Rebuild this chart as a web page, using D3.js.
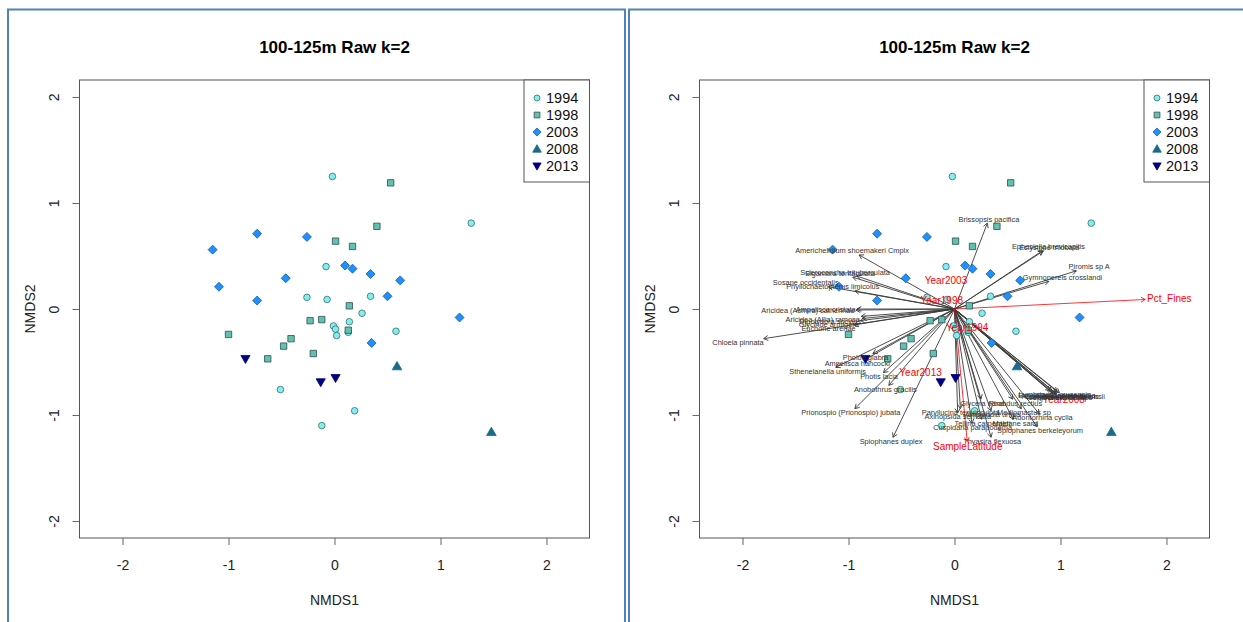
<!DOCTYPE html>
<html>
<head>
<meta charset="utf-8">
<script src="https://cdn.jsdelivr.net/npm/d3@7"></script>
<style>
  body { margin: 0; background: #fff; }
  svg text { font-family: "Liberation Sans", Arial, sans-serif; }
</style>
</head>
<body>
<svg id="chart" width="1243" height="622"></svg>
<script>
// NMDS site scores, one array per survey year
const years = ["1994", "1998", "2003", "2008", "2013"];
const sites1994 = [[-0.02, 1.25], [1.29, 0.81], [-0.08, 0.40], [-0.26, 0.11], [-0.07, 0.09], [0.34, 0.12],
  [0.26, -0.04], [0.14, -0.12], [-0.01, -0.16], [0.01, -0.19], [0.02, -0.25], [0.13, -0.22],
  [0.58, -0.21], [-0.51, -0.76], [0.19, -0.96], [-0.12, -1.10]];
const sites1998 = [[0.53, 1.19], [0.40, 0.78], [0.01, 0.64], [0.17, 0.59], [0.14, 0.03], [-0.23, -0.11],
  [-0.12, -0.10], [0.13, -0.20], [-1.00, -0.24], [-0.41, -0.28], [-0.48, -0.35], [-0.20, -0.42], [-0.63, -0.47]];
const sites2003 = [[-1.15, 0.56], [-0.73, 0.71], [-0.26, 0.68], [0.10, 0.41], [0.17, 0.38], [0.34, 0.33],
  [0.62, 0.27], [-0.46, 0.29], [-1.09, 0.21], [-0.73, 0.08], [0.50, 0.12], [1.18, -0.08], [0.35, -0.32]];
const sites2008 = [[0.59, -0.54], [1.48, -1.16]];
const sites2013 = [[-0.84, -0.47], [-0.13, -0.69], [0.01, -0.65]];

// species vectors (arrow tips)
const speciesNames = ["Brissopsis pacifica", "Ephesiella brevicapitis", "Eclysippe trilobata", "Piromis sp A",
  "Gymnonereis crosslandi", "Americhelidium shoemakeri Cmplx", "Sigambra tentaculata", "Scleroconcha trituberculata",
  "Sosane occidentalis", "Phyllochaetopterus limicolus", "Aricidea (Acmira) catherinae", "Ampelisca cristata",
  "Aricidea (Allia) ramosa", "Dipolydora socialis", "Glycinde armigera", "Euchone arenae", "Chloeia pinnata",
  "Pholoe glabra", "Ampelisca hancocki", "Sthenelanella uniformis", "Photis lacia", "Anobothrus gracilis",
  "Prionospio (Prionospio) jubata", "Spiophanes duplex", "Glycera nana", "Rhabdus rectius",
  "Parvilucina tenuisculpta", "Axinopsida serricata", "Amphiodia urtica", "Mediomastus sp", "Adontorhina cyclia",
  "Tellina carpenteri", "Maldane sarsi", "Cuspidaria parapodema", "Spiophanes berkeleyorum", "Thyasira flexuosa",
  "Lumbrineris cruzensis", "Euphilomedes producta", "Pectinaria californiensis", "Chaetozone sp",
  "Leptochelia dubia", "Ampharete labrops", "Compressidens stearnsii"];
const speciesX = [0.31, 0.83, 0.835, 1.15, 0.89, -0.90, -0.96, -0.92, -1.19, -0.94, -0.93, -0.92, -0.88, -0.87,
  -0.89, -0.95, -1.80, -0.77, -0.85, -1.12, -0.67, -0.62, -0.94, -0.58, 0.25, 0.55, 0.055, 0.03, 0.345, 0.63,
  0.80, 0.255, 0.555, 0.165, 0.78, 0.345, 0.90, 0.92, 0.95, 0.97, 0.93, 0.96, 0.99];
const speciesY = [0.81, 0.55, 0.545, 0.36, 0.26, 0.51, 0.30, 0.31, 0.21, 0.17, -0.01, 0.00, -0.07, -0.09,
  -0.11, -0.15, -0.28, -0.42, -0.48, -0.55, -0.60, -0.72, -0.94, -1.21, -0.85, -0.85, -0.94, -0.98, -0.96, -0.94,
  -0.99, -1.04, -1.04, -1.08, -1.11, -1.21, -0.77, -0.78, -0.79, -0.78, -0.80, -0.80, -0.79];

// environmental vectors and year centroids
const envNames = ["Pct_Fines", "SampleLatitude"];
const envX = [1.80, 0.12];
const envY = [0.09, -1.25];
const centroidNames = ["Year1994", "Year1998", "Year2003", "Year2008", "Year2013"];
const centroidX = [0.12, -0.12, -0.08, 1.03, -0.32];
const centroidY = [-0.17, 0.08, 0.27, -0.85, -0.60];

const tickValues = [-2, -1, 0, 1, 2];

const svg = d3.select("#chart");

// R-like plotting symbols, size = radius
const symCircle = { draw(c, s) { c.moveTo(s, 0); c.arc(0, 0, s, 0, 2 * Math.PI); } };
const symSquare = { draw(c, s) { c.rect(-s, -s, 2 * s, 2 * s); } };
const symDiamond = { draw(c, s) { c.moveTo(0, -s); c.lineTo(s, 0); c.lineTo(0, s); c.lineTo(-s, 0); c.closePath(); } };
const symUp = { draw(c, s) { c.moveTo(0, -s); c.lineTo(s, s * 0.74); c.lineTo(-s, s * 0.74); c.closePath(); } };
const symDown = { draw(c, s) { c.moveTo(0, s); c.lineTo(s, -s * 0.74); c.lineTo(-s, -s * 0.74); c.closePath(); } };

const groups = [
  { year: "1994", sites: sites1994, type: symCircle, size: 3.3, fill: "#7FEFEF", stroke: "#3d6b6b" },
  { year: "1998", sites: sites1998, type: symSquare, size: 3.2, fill: "#62C0B2", stroke: "#2f4f4f" },
  { year: "2003", sites: sites2003, type: symDiamond, size: 4.5, fill: "#1E90FF", stroke: "#1c5a9a" },
  { year: "2008", sites: sites2008, type: symUp, size: 4.8, fill: "#1B6A89", stroke: "#1B6A89" },
  { year: "2013", sites: sites2013, type: symDown, size: 4.6, fill: "#000080", stroke: "#000080" }
];

// panel frames
svg.append("rect").attr("x", 8).attr("y", 9.5).attr("width", 617).attr("height", 640)
  .attr("fill", "none").attr("stroke", "#4F81BD").attr("stroke-width", 2);
svg.append("rect").attr("x", 629).attr("y", 9.5).attr("width", 640).attr("height", 640)
  .attr("fill", "none").attr("stroke", "#4F81BD").attr("stroke-width", 2);

// vegan's ordiArrowTextXY: put the label just past the arrow tip
function arrowTextXY(vx, vy, w, h) {
  const b = vy / vx;
  let ox = Math.sign(vx) * (w / 2 + h / 4);
  let oy = 0.75 * h * Math.sign(vy);
  const move = oy / b;
  if (isFinite(move) && Math.abs(move) <= Math.abs(ox)) ox = move;
  else oy = b * ox;
  return [vx + ox, vy + oy];
}

function arrowPath(x1, y1, x2, y2, len) {
  const a = Math.atan2(y2 - y1, x2 - x1);
  const p = d3.path();
  p.moveTo(x1, y1);
  p.lineTo(x2, y2);
  p.moveTo(x2 - len * Math.cos(a - Math.PI / 6), y2 - len * Math.sin(a - Math.PI / 6));
  p.lineTo(x2, y2);
  p.lineTo(x2 - len * Math.cos(a + Math.PI / 6), y2 - len * Math.sin(a + Math.PI / 6));
  return p.toString();
}

function drawArrows(g, x, y, vx, vy, color, width) {
  const ox = x(0), oy = y(0);
  vx.forEach((v, i) => {
    g.append("path")
      .attr("d", arrowPath(ox, oy, x(vx[i]), y(vy[i]), 5))
      .attr("fill", "none")
      .attr("stroke", color)
      .attr("stroke-width", width);
  });
}

function drawArrowLabels(g, x, y, names, vx, vy, textColor, fontSize) {
  const ox = x(0), oy = y(0);
  names.forEach((name, i) => {
    const tx = x(vx[i]), ty = y(vy[i]);
    const t = g.append("text")
      .attr("font-size", fontSize)
      .attr("fill", textColor)
      .attr("text-anchor", "middle")
      .attr("dominant-baseline", "central")
      .text(name);
    const w = t.node().getComputedTextLength();
    const [lx, ly] = arrowTextXY(tx - ox, oy - ty, w, fontSize * 0.72);
    t.attr("x", ox + lx).attr("y", oy - ly);
  });
}

function drawPanel(x0, biplot) {
  const x = d3.scaleLinear().domain([-2.406, 2.406]).range([x0 - 255, x0 + 255]);
  const y = d3.scaleLinear().domain([-2.16, 2.16]).range([538, 80]);
  const g = svg.append("g");

  g.append("text")
    .attr("x", x0).attr("y", 47)
    .attr("text-anchor", "middle").attr("dominant-baseline", "central")
    .attr("font-size", 17).attr("font-weight", "bold")
    .text("100-125m Raw k=2");

  const xAxis = d3.axisBottom(x).tickValues(tickValues).tickSize(7).tickFormat((d) => String(d));
  const yAxis = d3.axisLeft(y).tickValues(tickValues).tickSize(7).tickFormat((d) => String(d));

  const gx = g.append("g").attr("transform", "translate(0,538)").call(xAxis);
  const gy = g.append("g").attr("transform", `translate(${x0 - 255},0)`).call(yAxis);
  [gx, gy].forEach((a) => {
    a.select(".domain").remove();
    a.selectAll(".tick line").attr("stroke", "#666");
    a.selectAll(".tick text")
      .attr("fill", "#222")
      .attr("font-size", 14)
      .attr("font-family", "Liberation Sans, Arial, sans-serif");
  });
  gx.selectAll(".tick text").attr("y", 27).attr("dy", "0.35em");
  gy.selectAll(".tick text")
    .attr("x", 0).attr("y", 0).attr("dy", "0.35em")
    .attr("text-anchor", "middle")
    .attr("transform", "translate(-25,0) rotate(-90)");

  g.append("text")
    .attr("x", x0).attr("y", 600)
    .attr("text-anchor", "middle").attr("dominant-baseline", "central")
    .attr("font-size", 14).attr("fill", "#222")
    .text("NMDS1");
  g.append("text")
    .attr("transform", `translate(${x0 - 305},309) rotate(-90)`)
    .attr("text-anchor", "middle").attr("dominant-baseline", "central")
    .attr("font-size", 14).attr("fill", "#222")
    .text("NMDS2");

  if (biplot) {
    drawArrows(g, x, y, speciesX, speciesY, "#3a3a3a", 0.9);
    drawArrows(g, x, y, envX, envY, "red", 0.8);
  }

  groups.forEach((grp) => {
    g.append("g")
      .selectAll("path")
      .data(grp.sites)
      .enter()
      .append("path")
      .attr("transform", (d) => `translate(${x(d[0])},${y(d[1])})`)
      .attr("d", d3.symbol().type(grp.type).size(grp.size))
      .attr("fill", grp.fill)
      .attr("stroke", grp.stroke)
      .attr("stroke-width", 0.8);
  });

  if (biplot) {
    // red fit labels, then species names over them
    drawArrowLabels(g, x, y, envNames, envX, envY, "red", 10);
    g.append("g")
      .selectAll("text")
      .data(centroidNames)
      .enter()
      .append("text")
      .attr("x", (d, i) => x(centroidX[i]))
      .attr("y", (d, i) => y(centroidY[i]))
      .attr("text-anchor", "middle").attr("dominant-baseline", "central")
      .attr("font-size", 10).attr("fill", "red")
      .text((d) => d);
    drawArrowLabels(g, x, y, speciesNames, speciesX, speciesY, "#333", 7.4);
  }

  // plot box
  g.append("rect")
    .attr("x", x0 - 255).attr("y", 80).attr("width", 510).attr("height", 458)
    .attr("fill", "none").attr("stroke", "#555").attr("stroke-width", 1);

  // legend
  const lg = g.append("g").attr("transform", `translate(${x0 + 189.5},80)`);
  lg.append("rect").attr("width", 65.5).attr("height", 102)
    .attr("fill", "#fff").attr("stroke", "#555").attr("stroke-width", 1);
  groups.forEach((grp, i) => {
    lg.append("path")
      .attr("transform", `translate(13,${18 + i * 17})`)
      .attr("d", d3.symbol().type(grp.type).size(grp.size * 0.9))
      .attr("fill", grp.fill).attr("stroke", grp.stroke).attr("stroke-width", 0.8);
    lg.append("text")
      .attr("x", 22).attr("y", 18 + i * 17)
      .attr("dominant-baseline", "central")
      .attr("font-size", 14.5).attr("fill", "#111")
      .text(years[i]);
  });
}

drawPanel(334.5, false);
drawPanel(954.5, true);
</script>
</body>
</html>
